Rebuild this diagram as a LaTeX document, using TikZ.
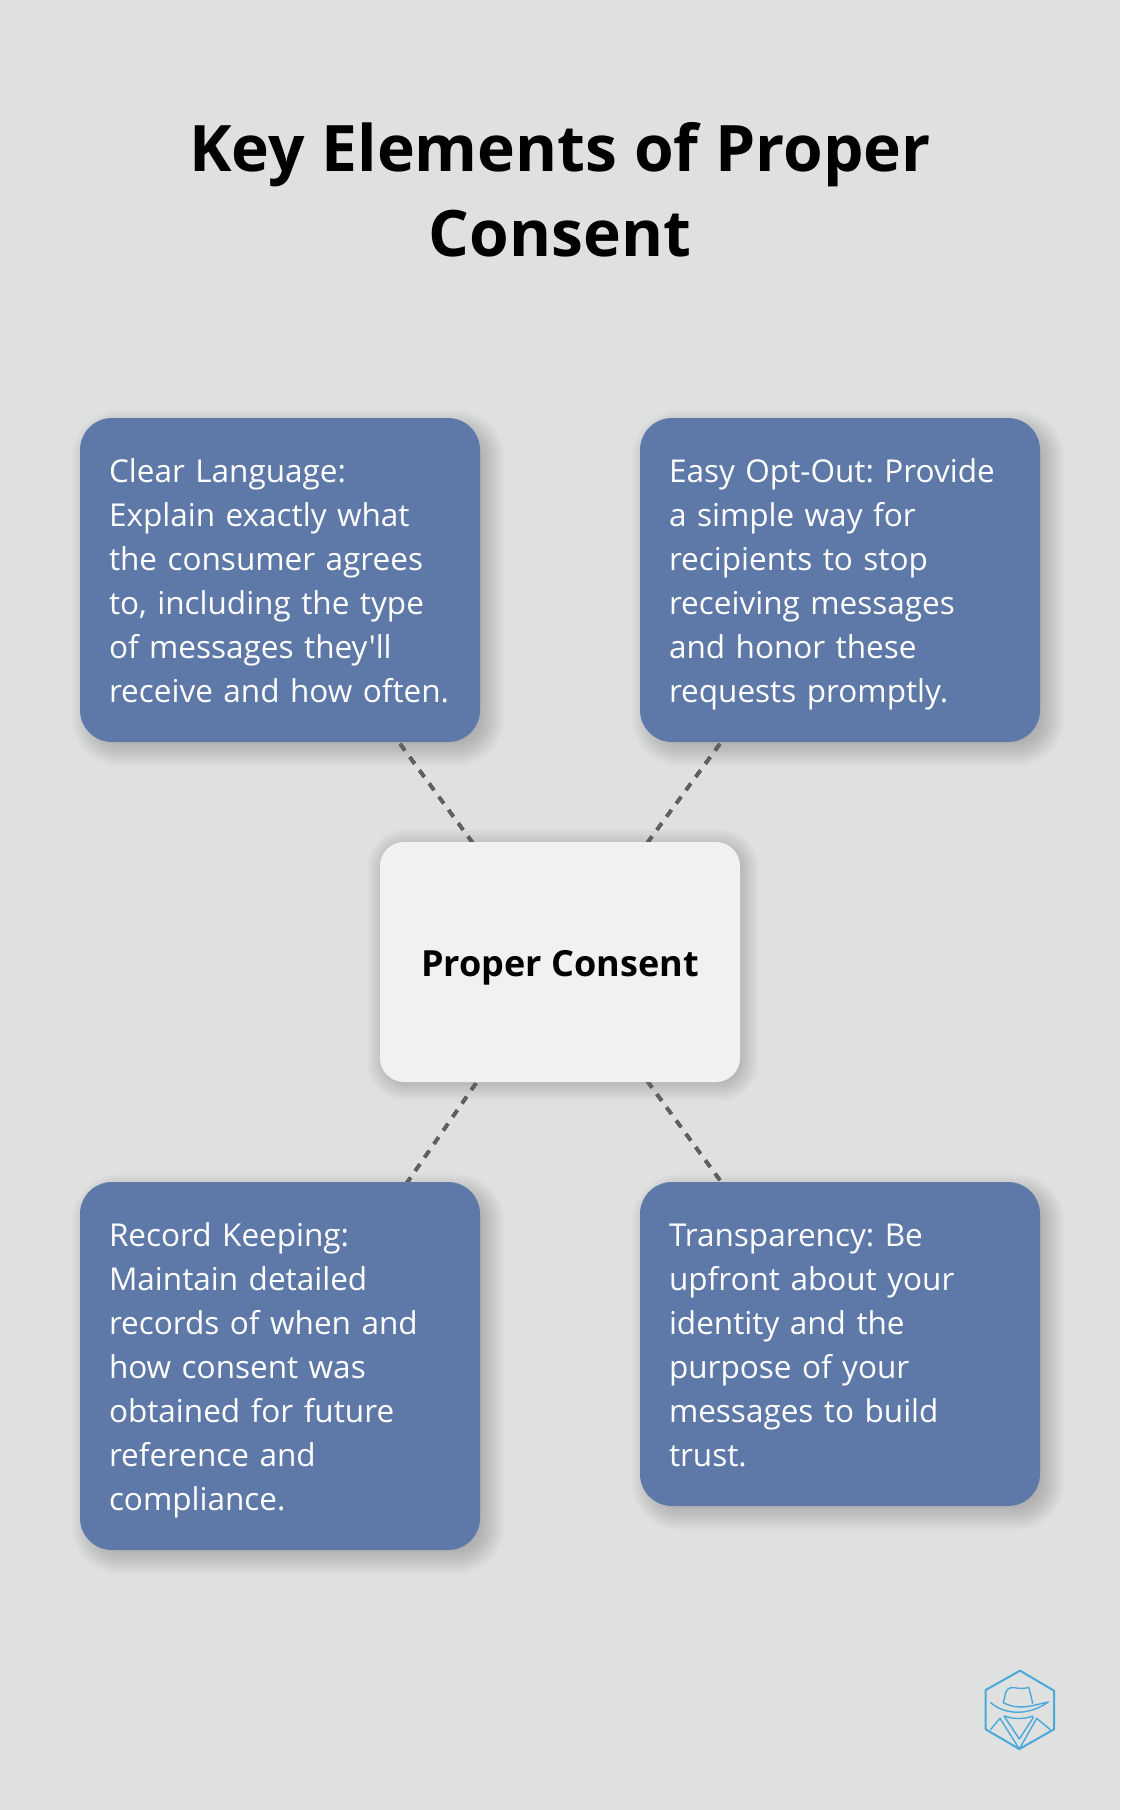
\documentclass[tikz,border=0pt]{standalone}
\usepackage{fontspec}
\setmainfont{Open Sans}[Ligatures=TeXOff]
\usepackage{tikz}
\usetikzlibrary{backgrounds}

\definecolor{pagegray}{HTML}{DFE1E0}
\definecolor{boxblue}{HTML}{5E79A8}
\definecolor{centerwhite}{HTML}{F0F1F3}
\definecolor{dashgray}{HTML}{606060}
\definecolor{logoblue}{HTML}{4BA9DA}

% node, offset, corner radius, opacity of one layer
\newcommand{\softshadow}[4]{%
	\foreach \grow in {-16,-14,...,16} {
		\pgfmathsetmacro{\cornerrad}{max(#3+\grow,2)}
		\fill[black, opacity=#4, rounded corners=\cornerrad pt]
			([xshift=#2pt-\grow pt, yshift=-#2pt+\grow pt]#1.north west) rectangle
			([xshift=#2pt+\grow pt, yshift=-#2pt-\grow pt]#1.south east);
	}
}

\tikzset{
	keybox/.style={rounded corners=32pt, fill=boxblue, text=white, inner sep=0pt,
		minimum width=400pt, align=left, text width=342pt,
		font=\fontsize{31.5}{44}\selectfont\frenchspacing,
		execute at begin node=\rule{0pt}{34.8pt},
		execute at end node=\rule[-9.2pt]{0pt}{0pt}},
	centerbox/.style={rounded corners=24pt, fill=centerwhite, minimum width=360pt, minimum height=240pt,
		font=\fontsize{36}{44}\selectfont\bfseries,
		execute at begin node=\rule{0pt}{38pt}},
	titletext/.style={align=center, inner sep=0pt, font=\fontsize{64.1}{85}\selectfont\bfseries},
	link/.style={draw=dashgray, line width=3.5pt, dash pattern=on 8pt off 8.4pt},
	logoline/.style={draw=logoblue, line width=1.4pt, line join=round, line cap=round}
}

\begin{document}
\begin{tikzpicture}[x=1pt, y=-1pt]
		\useasboundingbox (0,0) rectangle (1120,1810);

		% Define nodes
		\node[titletext] (title) at (560,190) {Key Elements of Proper\\Consent};
		\node[keybox, minimum height=324pt] (clear) at (280,580) {Clear Language:\\Explain exactly what\\the consumer agrees\\to, including the type\\of messages they'll\\receive and how often.};
		\node[keybox, minimum height=324pt] (optout) at (840,580) {Easy Opt-Out: Provide\\a simple way for\\recipients to stop\\receiving messages\\and honor these\\requests promptly.};
		\node[centerbox] (consent) at (560,962) {Proper Consent};
		\node[keybox, minimum height=368pt] (record) at (280,1366) {Record Keeping:\\Maintain detailed\\records of when and\\how consent was\\obtained for future\\reference and\\compliance.};
		\node[keybox, minimum height=324pt] (transparency) at (840,1344) {Transparency: Be\\upfront about your\\identity and the\\purpose of your\\messages to build\\trust.};

		% Connect the nodes
		\begin{pgfonlayer}{background}
			\fill[pagegray] (0,0) rectangle (1120,1810);
			\foreach \outer in {clear,optout,record,transparency}
				\softshadow{\outer}{8}{32}{0.016}
			\softshadow{consent}{3}{24}{0.005}
			\foreach \outer in {clear,optout,record,transparency}
				\draw[link] (consent.center) -- (\outer.center);
		\end{pgfonlayer}

		% Logo
		\begin{scope}[shift={(940,1640)}, x=0.3333pt, y=-0.3333pt]
			\draw[logoline, line width=2pt] (240,92) -- (342,152) -- (342,268) -- (238,327) -- (137,268) -- (137,150) -- cycle;
			\draw[logoline] (190,188) .. controls (196,170) and (194,146) .. (212,143) .. controls (228,141) and (240,150) .. (266,142) .. controls (272,160) and (274,175) .. (278,190);
			\draw[logoline] (152,188) .. controls (200,228) and (270,225) .. (325,186) .. controls (290,192) and (240,215) .. (190,188);
			\draw[logoline] (195,228) .. controls (215,238) and (255,238) .. (278,228);
			\draw[logoline] (192,228) -- (238,297) -- (280,232);
			\draw[logoline] (152,268) -- (180,235) -- (238,327) -- (290,235) -- (330,268);
		\end{scope}
	\end{tikzpicture}
\end{document}
